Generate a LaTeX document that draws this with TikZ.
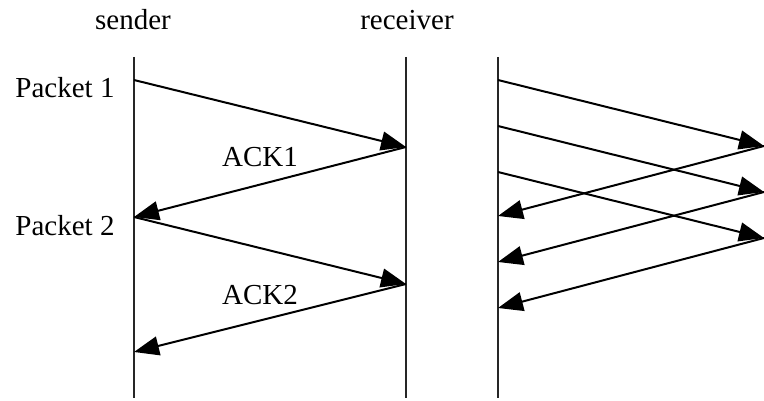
\documentclass[tikz,border=0pt]{standalone}
\usepackage{fontspec}
\setmainfont{Liberation Serif}
\usetikzlibrary{arrows.meta}
\tikzset{
  timeline/.style={line width=2.4pt, draw=black!85},
  msg/.style={line width=2pt, -{Triangle[length=25pt,width=19pt]}},
  lbl/.style={font=\fontsize{29}{32}\selectfont, inner sep=0pt},
}
\begin{document}
\begin{tikzpicture}[x=1pt,y=-1pt]
\useasboundingbox (0,0) rectangle (764,401);
% labels
\node[lbl] (snd) at (133,20) {sender};
\node[lbl] (rcv) at (407,20) {receiver};
\node[lbl] (p1) at (65,88) {Packet 1};
\node[lbl] (p2) at (65,226) {Packet 2};
\node[lbl] (a1) at (260,157) {ACK1};
\node[lbl] (a2) at (260,295) {ACK2};
% timelines
\coordinate (sT) at (134,57); \coordinate (sB) at (134,398);
\coordinate (rT) at (406,57); \coordinate (rB) at (406,398);
\coordinate (wT) at (498,57); \coordinate (wB) at (498,398);
\draw[timeline] (sT) -- (sB);
\draw[timeline] (rT) -- (rB);
\draw[timeline] (wT) -- (wB);
% stop-and-wait
\coordinate (s1) at (134,80);
\coordinate (r1) at (406,147);
\coordinate (s2) at (134,217);
\coordinate (r2) at (406,284);
\coordinate (s3) at (134,352);
\draw[msg] (s1) -- (r1);
\draw[msg] (r1) -- (s2);
\draw[msg] (s2) -- (r2);
\draw[msg] (r2) -- (s3);
% pipelined
\coordinate (w1) at (498,80);
\coordinate (w2) at (498,126);
\coordinate (w3) at (498,172);
\coordinate (e1) at (764,146);
\coordinate (e2) at (764,192);
\coordinate (e3) at (764,238);
\coordinate (k1) at (498,216);
\coordinate (k2) at (498,262);
\coordinate (k3) at (498,308);
\draw[msg] (w1) -- (e1);
\draw[msg] (w2) -- (e2);
\draw[msg] (w3) -- (e3);
\draw[msg] (e1) -- (k1);
\draw[msg] (e2) -- (k2);
\draw[msg] (e3) -- (k3);
\end{tikzpicture}
\end{document}
